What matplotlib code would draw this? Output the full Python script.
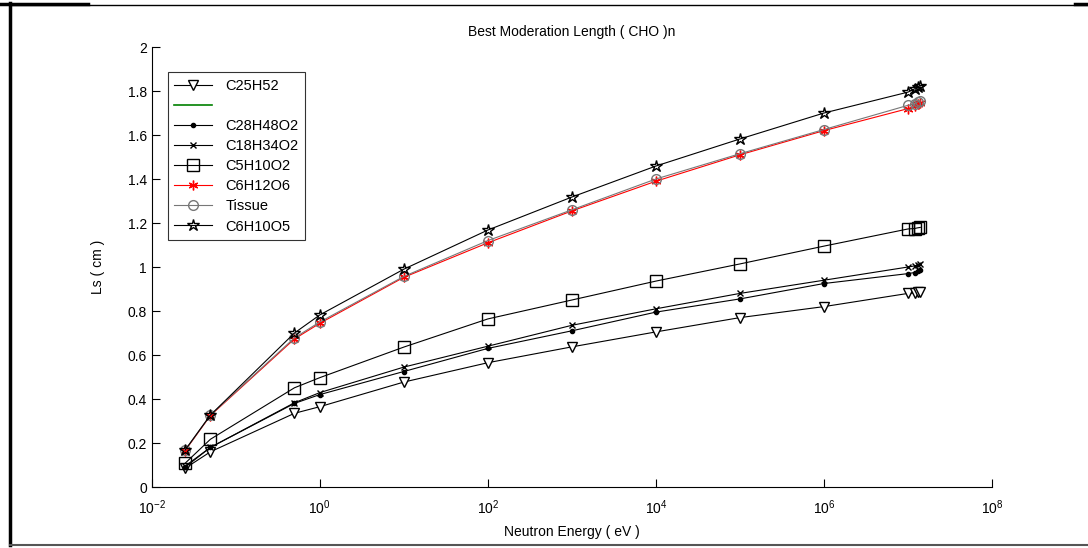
import numpy as np
import matplotlib
matplotlib.use("Agg")
import matplotlib.pyplot as plt
from matplotlib.lines import Line2D

plt.rcParams['font.family'] = ['Liberation Sans', 'DejaVu Sans']

# neutron energies (eV)
energy = [0.025, 0.05, 0.5, 1, 10, 1e2, 1e3, 1e4, 1e5, 1e6, 1e7, 1.2e7, 1.3e7, 1.4e7]

c25h52 = [0.085, 0.16, 0.335, 0.365, 0.477, 0.565, 0.637, 0.705, 0.77, 0.82, 0.88, 0.882, 0.885, 0.888]
c28h48o2 = [0.09, 0.18, 0.38, 0.42, 0.525, 0.63, 0.71, 0.795, 0.855, 0.925, 0.97, 0.975, 0.98, 0.985]
c18h34o2 = [0.095, 0.18, 0.383, 0.429, 0.545, 0.64, 0.735, 0.81, 0.88, 0.94, 1.0, 1.005, 1.01, 1.013]
c5h10o2 = [0.108, 0.217, 0.451, 0.497, 0.636, 0.764, 0.85, 0.936, 1.014, 1.095, 1.173, 1.175, 1.178, 1.18]
c6h12o6 = [0.165, 0.325, 0.673, 0.744, 0.953, 1.11, 1.255, 1.39, 1.51, 1.62, 1.72, 1.73, 1.74, 1.745]
tissue = [0.167, 0.327, 0.678, 0.75, 0.957, 1.12, 1.26, 1.40, 1.515, 1.625, 1.735, 1.74, 1.75, 1.755]
c6h10o5 = [0.168, 0.327, 0.70, 0.782, 0.99, 1.168, 1.318, 1.459, 1.582, 1.70, 1.795, 1.81, 1.82, 1.823]

series = [
    ("C25H52", c25h52, dict(color="black", marker="v", mfc="white", mec="black", ms=7, lw=0.8)),
    ("C28H48O2", c28h48o2, dict(color="black", marker=".", ms=6, lw=0.8)),
    ("C18H34O2", c18h34o2, dict(color="black", marker="x", ms=5, lw=0.8)),
    ("C5H10O2", c5h10o2, dict(color="black", marker="s", mfc="none", ms=8, lw=0.8)),
    ("C6H12O6", c6h12o6, dict(color="red", marker=(6, 2, 0), ms=7, lw=0.8)),
    ("Tissue", tissue, dict(color="#777777", marker="o", mfc="none", ms=7, lw=0.8)),
    ("C6H10O5", c6h10o5, dict(color="black", marker="*", mfc="none", ms=9, lw=0.8)),
]

fig = plt.figure(figsize=(10.88, 5.48), dpi=100)
ax = fig.add_axes([0.1394, 0.1113, 0.7724, 0.8029])

handles = {}
for name, vals, st in series:
    h, = ax.plot(energy, vals, label=name, **st)
    handles[name] = h

ax.set_xscale("log")
ax.set_xlim(1e-2, 1e8)
ax.set_ylim(0, 2)
ax.set_xticks([1e-2, 1e0, 1e2, 1e4, 1e6, 1e8])
ax.xaxis.set_minor_locator(matplotlib.ticker.NullLocator())
ax.set_yticks(np.arange(0, 2.01, 0.2))
ax.set_yticklabels(["0", "0.2", "0.4", "0.6", "0.8", "1", "1.2", "1.4", "1.6", "1.8", "2"])
ax.tick_params(direction="in", length=6, labelsize=10, width=0.8)
ax.tick_params(axis="x", pad=8)
for s in ["top", "right"]:
    ax.spines[s].set_visible(False)

ax.set_title("Best Moderation Length ( CHO )n", fontsize=10, pad=8)
ax.set_xlabel("Neutron Energy ( eV )", fontsize=10, labelpad=6)
ax.set_ylabel("Ls ( cm )", fontsize=10, labelpad=16)

green = Line2D([], [], color="#008000", lw=1.2)
leg_h = [handles["C25H52"], green, handles["C28H48O2"], handles["C18H34O2"],
         handles["C5H10O2"], handles["C6H12O6"], handles["Tissue"], handles["C6H10O5"]]
leg_l = ["C25H52", "", "C28H48O2", "C18H34O2", "C5H10O2", "C6H12O6", "Tissue", "C6H10O5"]
leg = ax.legend(leg_h, leg_l, loc="upper left", bbox_to_anchor=(0.019, 0.943),
                fontsize=10.5, frameon=True, fancybox=False, edgecolor="black",
                handlelength=2.6, labelspacing=0.42, borderpad=0.45, handletextpad=0.9,
                borderaxespad=0)
leg.get_frame().set_linewidth(0.8)

# outer frame of the screenshot
W, H = 1088.0, 548.0
fig.add_artist(Line2D([10 / W, 10 / W], [1 - 3 / H, 1 - 545 / H], color="black", lw=2.5, transform=fig.transFigure))
fig.add_artist(Line2D([10 / W, 1.0], [1 - 5 / H, 1 - 5 / H], color="black", lw=1.0, transform=fig.transFigure))
fig.add_artist(Line2D([0.0, 88 / W], [1 - 4 / H, 1 - 4 / H], color="black", lw=2.5, transform=fig.transFigure))
fig.add_artist(Line2D([1075 / W, 1.0], [1 - 4 / H, 1 - 4 / H], color="black", lw=2.5, transform=fig.transFigure))
fig.add_artist(Line2D([10 / W, 1.0], [1 - 545 / H, 1 - 545 / H], color="#555555", lw=1.5, transform=fig.transFigure))

fig.savefig("out.png", dpi=100)
